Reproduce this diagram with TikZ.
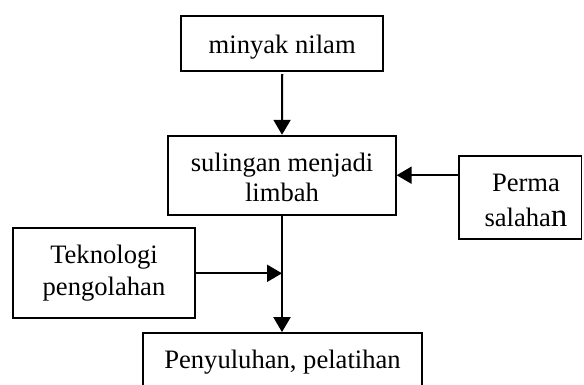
\documentclass[tikz,border=0pt]{standalone}
\usepackage{fontspec}
\setmainfont{Liberation Serif}
\usetikzlibrary{arrows.meta}
\begin{document}
\begin{tikzpicture}[x=1pt,y=-1pt,
  box/.style={draw=black,line width=1.8pt,rectangle,inner sep=0pt},
  lbl/.style={anchor=base,inner sep=0pt,font=\fontsize{26.6}{30}\selectfont},
  arr/.style={line width=2.1pt,-{Triangle[width=17pt,length=15pt]}}]
\useasboundingbox (0,0) rectangle (584,385);
\clip (0,0) rectangle (584,385);
\fill[white] (0,0) rectangle (584,385);
% boxes
\node[box,minimum width=202.3pt,minimum height=55pt] (top) at (282.2,43.2) {};
\node[box,minimum width=227.5pt,minimum height=79pt] (mid) at (282,175.2) {};
\node[box,minimum width=122.5pt,minimum height=83.6pt] (perma) at (520.2,197.5) {};
\node[box,minimum width=182.3pt,minimum height=90pt] (tek) at (103.9,273.3) {};
\node[box,minimum width=278.4pt,minimum height=80pt] (bot) at (282.5,373) {};
% texts
\node[lbl] (t1) at (282.2,53.3) {minyak nilam};
\node[lbl] (t2a) at (282,171.7) {sulingan menjadi};
\node[lbl] (t2b) at (282,201) {limbah};
\node[lbl] (t3a) at (526,191.7) {Perma};
\node[lbl] (t3b) at (526,226) {salaha{\fontsize{33}{33}\selectfont n}};
\node[lbl] (t4a) at (104,263.3) {Teknologi};
\node[lbl] (t4b) at (104,295) {pengolahan};
\node[lbl] (t5) at (282.5,368.3) {Penyuluhan, pelatihan};
% connectors
\draw[arr] ([yshift=-2.6pt]top.south) -- (mid.north);
\draw[arr] (perma.west |- mid.east) -- (mid.east);
\draw[arr] (mid.south) -- (mid.south |- bot.north);
\draw[arr] (tek.east) -- (tek.east -| mid.south);
\end{tikzpicture}
\end{document}
